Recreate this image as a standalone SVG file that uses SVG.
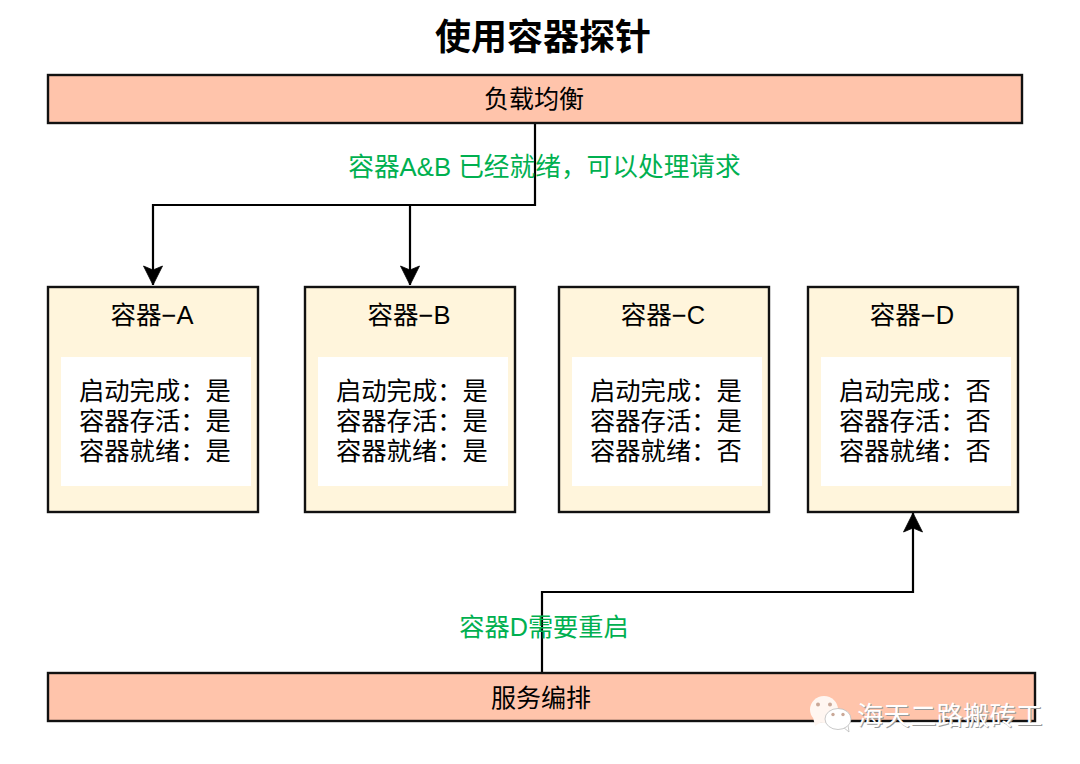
<svg xmlns="http://www.w3.org/2000/svg" width="1080" height="764" viewBox="0 0 1080 764">
<defs>
<marker id="a" markerUnits="userSpaceOnUse" markerWidth="24" markerHeight="24" refX="20" refY="12" orient="auto"><path d="M1 2.500L20 12L1 21.500L5 12Z" fill="#000" stroke="#000" stroke-width="0.8"/></marker>
</defs>
<style>
text{font-family:"Liberation Sans","Noto Sans CJK SC",sans-serif;fill:#000;text-anchor:middle}
.bar{fill:#ffc4ab;stroke:#111;stroke-width:2.4}
.box{fill:#fff5dc;stroke:#111;stroke-width:2.4}
.in{fill:#fff}
.t{font-size:25px}
.h{font-size:25.500px}
.r{font-size:25.300px;text-anchor:start}
.g{font-size:25.700px;fill:#00b050}
.g2{font-size:25.200px;fill:#00b050}
.c{fill:none;stroke:#000;stroke-width:2.200}
.w{font-size:26.500px;text-anchor:start}
.e{fill:#c9a898}
</style>
<rect width="1080" height="764" fill="#fff"/>
<text x="543" y="50" font-size="36" font-weight="bold">使用容器探针</text>
<g id="connectors">
<path class="c" d="M535 124V205H153V285" marker-end="url(#a)"/>
<path class="c" d="M410 205V285" marker-end="url(#a)"/>
<path class="c" d="M542 672V592H913V513" marker-end="url(#a)"/>
</g>
<g id="lb"><rect class="bar" x="48" y="75" width="974" height="48"/><text class="t" x="534" y="108">负载均衡</text></g>
<text class="g" x="544.500" y="176">容器A&amp;B 已经就绪，可以处理请求</text>
<g id="a1"><rect class="box" x="48" y="287" width="210" height="225"/><text class="h" x="152" y="324">容器−A</text><rect class="in" x="61" y="357" width="190" height="129"/><text class="r" x="79" y="400">启动完成：是</text><text class="r" x="79" y="430">容器存活：是</text><text class="r" x="79" y="460">容器就绪：是</text></g>
<g id="b1"><rect class="box" x="305" y="287" width="210" height="225"/><text class="h" x="409" y="324">容器−B</text><rect class="in" x="318" y="357" width="190" height="129"/><text class="r" x="336" y="400">启动完成：是</text><text class="r" x="336" y="430">容器存活：是</text><text class="r" x="336" y="460">容器就绪：是</text></g>
<g id="c1"><rect class="box" x="559" y="287" width="210" height="225"/><text class="h" x="663" y="324">容器−C</text><rect class="in" x="572" y="357" width="190" height="129"/><text class="r" x="590" y="400">启动完成：是</text><text class="r" x="590" y="430">容器存活：是</text><text class="r" x="590" y="460">容器就绪：否</text></g>
<g id="d1"><rect class="box" x="808" y="287" width="210" height="225"/><text class="h" x="912" y="324">容器−D</text><rect class="in" x="821" y="357" width="190" height="129"/><text class="r" x="839" y="400">启动完成：否</text><text class="r" x="839" y="430">容器存活：否</text><text class="r" x="839" y="460">容器就绪：否</text></g>
<text class="g2" x="544" y="636">容器D需要重启</text>
<g id="orch"><rect class="bar" x="48" y="673" width="987" height="48"/><text class="t" x="541" y="707">服务编排</text></g>
<g id="watermark">
<path d="M813 717L815 726L823 721Z" fill="#fff6f1"/>
<ellipse cx="824" cy="709.500" rx="14" ry="13.500" fill="#fff6f1"/>
<path d="M843 727L849 732L848 725Z" fill="#fff" stroke="#bbb" stroke-width="0.8"/>
<ellipse cx="838" cy="719" rx="13" ry="10.500" fill="#fff" stroke="#bbb" stroke-width="0.8"/>
<circle class="e" cx="818" cy="704.500" r="2"/><circle class="e" cx="830" cy="704.500" r="2"/>
<circle class="e" cx="833" cy="714.500" r="1.700"/><circle class="e" cx="843" cy="714.500" r="1.700"/>
<text class="w" x="858" y="726" style="fill:#999">海天二路搬砖工</text>
<text class="w" x="857" y="725" style="fill:#fff">海天二路搬砖工</text>
</g>
</svg>
